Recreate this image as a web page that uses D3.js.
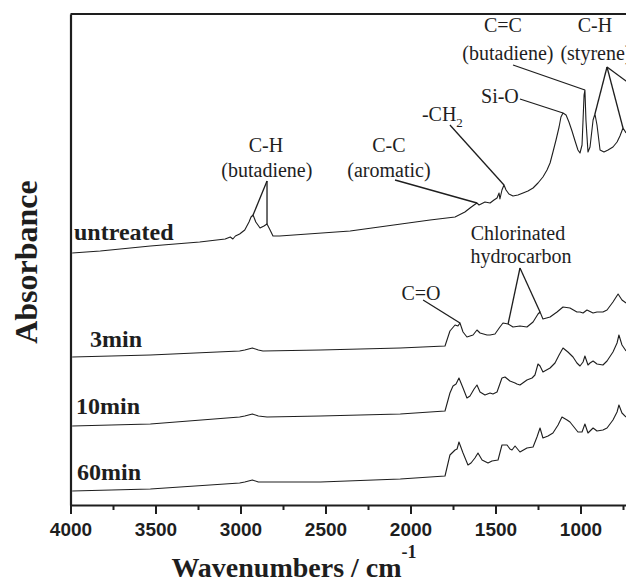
<!DOCTYPE html>
<html>
<head>
<meta charset="utf-8">
<script src="https://cdn.jsdelivr.net/npm/d3@7"></script>
<style>
body {margin: 0; background: #fff;}
svg {display: block;}
</style>
</head>
<body>
<div id="chart"></div>
<script>
// FTIR spectra, [wavenumber (cm-1), absorbance (a.u.)]
var untreated = [[3990,25.2],[3825,25.4],[3530,25.9],[3240,26.3],[3090,26.6],[3060,26.8],[3045,26.6],[3030,26.9],
    [3005,27.1],[2975,27.5],[2950,28.3],[2938,28.8],[2926,29.0],[2910,28.3],[2885,27.7],[2862,27.9],[2844,28.1],
    [2826,27.5],[2809,26.9],[2770,26.9],[2355,27.4],[1885,28.5],[1738,28.8],[1680,29.3],[1650,29.7],[1626,30.0],
    [1609,30.2],[1597,30.0],[1585,30.1],[1562,30.3],[1532,30.2],[1509,30.5],[1491,30.7],[1479,31.2],[1474,30.6],
    [1462,31.5],[1450,32.0],[1438,31.5],[1421,31.1],[1397,30.9],[1368,31.0],[1338,31.2],[1309,31.4],[1279,31.7],
    [1250,32.2],[1221,32.8],[1197,33.5],[1179,34.2],[1162,35.3],[1144,36.5],[1126,37.8],[1115,38.8],[1103,39.2],
    [1085,39.0],[1068,38.3],[1050,37.4],[1032,36.4],[1015,35.5],[1003,35.2],[991,36.0],[979,41.0],[974,41.5],
    [968,38.5],[956,35.3],[944,35.8],[926,38.5],[915,39.1],[903,38.0],[885,35.5],[862,35.3],[838,35.5],[809,35.8],
    [785,36.3],[768,36.9],[750,37.7],[732,37.2]];

var min3 = [[3990,14.8],[3530,15.0],[3005,15.4],[2975,15.5],[2930,15.7],[2895,15.5],[2868,15.4],[2530,15.5],
    [2060,15.7],[1797,15.9],[1768,17.4],[1738,18.0],[1721,17.9],[1709,18.2],[1691,17.3],[1668,16.8],[1632,17.0],
    [1609,17.5],[1591,17.2],[1550,17.0],[1532,17.0],[1503,17.1],[1474,17.8],[1456,18.2],[1426,18.1],[1397,17.8],
    [1356,17.9],[1315,17.8],[1279,18.3],[1250,19.1],[1238,19.3],[1221,18.6],[1179,18.8],[1138,19.3],[1103,19.8],
    [1062,19.7],[1021,19.3],[1003,19.3],[985,19.2],[962,19.5],[926,19.2],[903,19.3],[868,19.3],[844,19.5],
    [809,20.3],[779,21.1],[756,20.5],[732,20.2]];

var min10 = [[3990,7.9],[3530,8.1],[3005,8.8],[2975,8.9],[2930,9.1],[2895,8.9],[2844,8.8],[2530,8.9],[2060,9.1],
    [1797,9.4],[1768,11.2],[1750,11.9],[1732,12.1],[1715,12.7],[1691,11.7],[1668,10.7],[1650,10.9],[1626,11.6],
    [1609,12.0],[1591,11.3],[1562,11.0],[1532,11.2],[1515,11.1],[1503,11.2],[1491,11.3],[1462,12.7],[1444,12.8],
    [1415,12.4],[1385,12.2],[1374,12.1],[1356,12.0],[1315,12.5],[1285,12.7],[1268,13.0],[1250,14.1],[1238,13.9],
    [1221,13.3],[1179,13.7],[1150,14.2],[1126,15.0],[1103,15.7],[1074,15.3],[1044,14.8],[1021,14.2],[1003,13.9],
    [985,14.3],[974,14.9],[956,14.0],[944,14.2],[926,14.4],[903,14.1],[868,14.0],[844,14.4],[809,15.3],[785,16.2],
    [774,17.0],[756,16.0],[732,15.4]];

var min60 = [[3990,1.4],[3530,1.6],[3005,2.2],[2975,2.3],[2930,2.5],[2895,2.3],[2844,2.3],[2530,2.3],[2060,2.6],
    [1797,2.9],[1768,5.0],[1738,5.5],[1726,5.6],[1715,6.3],[1691,5.2],[1662,4.0],[1644,4.2],[1621,4.7],[1603,5.2],
    [1579,4.5],[1544,4.2],[1521,4.4],[1485,4.5],[1462,6.0],[1432,6.0],[1415,5.6],[1403,5.5],[1385,5.9],[1356,5.3],
    [1315,5.7],[1279,5.8],[1256,6.8],[1238,7.7],[1221,6.7],[1191,6.9],[1162,7.2],[1132,8.0],[1109,8.8],[1079,8.5],
    [1062,8.3],[1015,7.3],[991,7.3],[974,8.1],[956,7.2],[926,7.7],[903,7.4],[868,7.5],[844,7.7],[809,8.5],[785,9.3],
    [774,10.0],[756,9.2],[732,8.8]];

var seriesNames = ["untreated", "3min", "10min", "60min"];
var xTicks = [4000, 3500, 3000, 2500, 2000, 1500, 1000];
var xMinorTicks = [3750, 3250, 2750, 2250, 1750, 1250, 750];

var width = 626, height = 582;
var serif = "'Liberation Serif', 'Times New Roman', serif";
var sans = "'Liberation Sans', Arial, sans-serif";
var ink = "#1e1e1e";

var svg = d3.select("#chart").append("svg")
    .attr("width", width)
    .attr("height", height);

var x = d3.scaleLinear().domain([4000, 730]).range([70.5, 626.4]);
var y = d3.scaleLinear().domain([0, 49.1]).range([505, 14]);

//spectra
var line = d3.line()
    .x(function(d) {return x(d[0]);})
    .y(function(d) {return y(d[1]);});

var series = [untreated, min3, min10, min60];
svg.selectAll("path.spec").data(series).enter().append("path")
    .attr("class", "spec")
    .attr("d", line)
    .attr("fill", "none")
    .attr("stroke", ink)
    .attr("stroke-width", 1.1)
    .attr("stroke-linejoin", "round");

//series labels (left, baseline)
var seriesLabelPos = [[74, 240], [90, 347], [76, 414], [77, 480]];
svg.selectAll("text.sname").data(seriesNames).enter().append("text")
    .attr("class", "sname")
    .attr("x", function(d, i) {return seriesLabelPos[i][0];})
    .attr("y", function(d, i) {return seriesLabelPos[i][1];})
    .style("font-family", serif)
    .style("font-weight", "bold")
    .style("font-size", "24px")
    .attr("fill", ink)
    .text(function(d) {return d;});

//axes
var xAxis = d3.axisBottom(x).tickValues(xTicks).tickFormat(d3.format("d"))
    .tickSize(9).tickSizeOuter(0).tickPadding(9);
var gx = svg.append("g").attr("transform", "translate(0," + y.range()[0] + ")").call(xAxis);
gx.select(".domain").attr("stroke", ink).attr("stroke-width", 2.2);
gx.selectAll(".tick line").attr("stroke", ink).attr("stroke-width", 2);
gx.selectAll(".tick text")
    .style("font-family", sans)
    .style("font-weight", "bold")
    .style("font-size", "19px")
    .attr("fill", ink);

var xMinor = d3.axisBottom(x).tickValues(xMinorTicks).tickSize(5).tickFormat("");
var gm = svg.append("g").attr("transform", "translate(0," + y.range()[0] + ")").call(xMinor);
gm.select(".domain").remove();
gm.selectAll(".tick line").attr("stroke", ink).attr("stroke-width", 2);

var yAxis = d3.axisLeft(y).tickValues([]).tickSizeOuter(0);
var gy = svg.append("g").attr("transform", "translate(" + x.range()[0] + ",0)").call(yAxis);
gy.select(".domain").attr("stroke", ink).attr("stroke-width", 2.2);

svg.append("line")
    .attr("x1", x.range()[0]).attr("x2", width)
    .attr("y1", y.range()[1]).attr("y2", y.range()[1])
    .attr("stroke", ink).attr("stroke-width", 2.2);

//axis titles
var xt = svg.append("text")
    .attr("x", 294).attr("y", 577)
    .style("text-anchor", "middle")
    .style("font-family", serif)
    .style("font-weight", "bold")
    .style("font-size", "28px")
    .attr("fill", ink);
xt.append("tspan").text("Wavenumbers / cm");
xt.append("tspan").attr("dy", -19).style("font-size", "18px").text("-1");

svg.append("text")
    .attr("transform", "translate(37,262) rotate(-90)")
    .style("text-anchor", "middle")
    .style("font-family", serif)
    .style("font-weight", "bold")
    .style("font-size", "32px")
    .attr("fill", ink)
    .text("Absorbance");

//peak annotations: text lines at [wavenumber, absorbance], leaders from "from" to peaks on a spectrum
function at(s, wn) {
    var best = s[0];
    s.forEach(function(d) {if (Math.abs(d[0] - wn) < Math.abs(best[0] - wn)) best = d;});
    return best;
}

var annotations = [
    {lines: [["C-H", 2850, 35.3], ["(butadiene)", 2845, 32.8]], from: [2844, 32.4],
        to: [at(untreated, 2926), at(untreated, 2844)]},
    {lines: [["C-C", 2127, 35.3], ["(aromatic)", 2127, 32.8]], from: [2091, 32.5],
        to: [at(untreated, 1609)]},
    {lines: [["Si-O", 1474, 40.2]], from: [1356, 40.6], to: [at(untreated, 1103)]},
    {lines: [["C=C", 1456, 47.3], ["(butadiene)", 1427, 44.5]], from: [1397, 44.0],
        to: [at(untreated, 974)]},
    {lines: [["C-H", 915, 47.3], ["(styrene)", 909, 44.5]], from: [844, 43.8],
        to: [at(untreated, 915), at(untreated, 750), [700, 42.0]]},
    {lines: [["C=O", 1938, 20.5]], from: [1926, 20.5], to: [at(min3, 1709)]},
    {lines: [["Chlorinated", 1368, 26.5], ["hydrocarbon", 1350, 24.2]], from: [1356, 23.7],
        to: [at(min3, 1426), at(min3, 1238)]}
];

annotations.forEach(function(a) {
    a.lines.forEach(function(l) {
        svg.append("text")
            .attr("x", x(l[1])).attr("y", y(l[2]))
            .style("text-anchor", "middle")
            .style("font-family", serif)
            .style("font-size", "20px")
            .attr("fill", ink)
            .text(l[0]);
    });
    a.to.forEach(function(t) {
        svg.append("line")
            .attr("x1", x(a.from[0])).attr("y1", y(a.from[1]))
            .attr("x2", x(t[0])).attr("y2", y(t[1]))
            .attr("stroke", ink).attr("stroke-width", 1.3);
    });
});

//-CH2 with subscript
var ch2 = svg.append("text")
    .attr("x", x(1933)).attr("y", y(38.4))
    .style("font-family", serif)
    .style("font-size", "20px")
    .attr("fill", ink);
ch2.append("tspan").text("-CH");
ch2.append("tspan").attr("dy", 6).style("font-size", "13px").text("2");
svg.append("line")
    .attr("x1", x(1768)).attr("y1", y(38.0))
    .attr("x2", x(1450)).attr("y2", y(at(untreated, 1450)[1]))
    .attr("stroke", ink).attr("stroke-width", 1.3);
</script>
</body>
</html>
